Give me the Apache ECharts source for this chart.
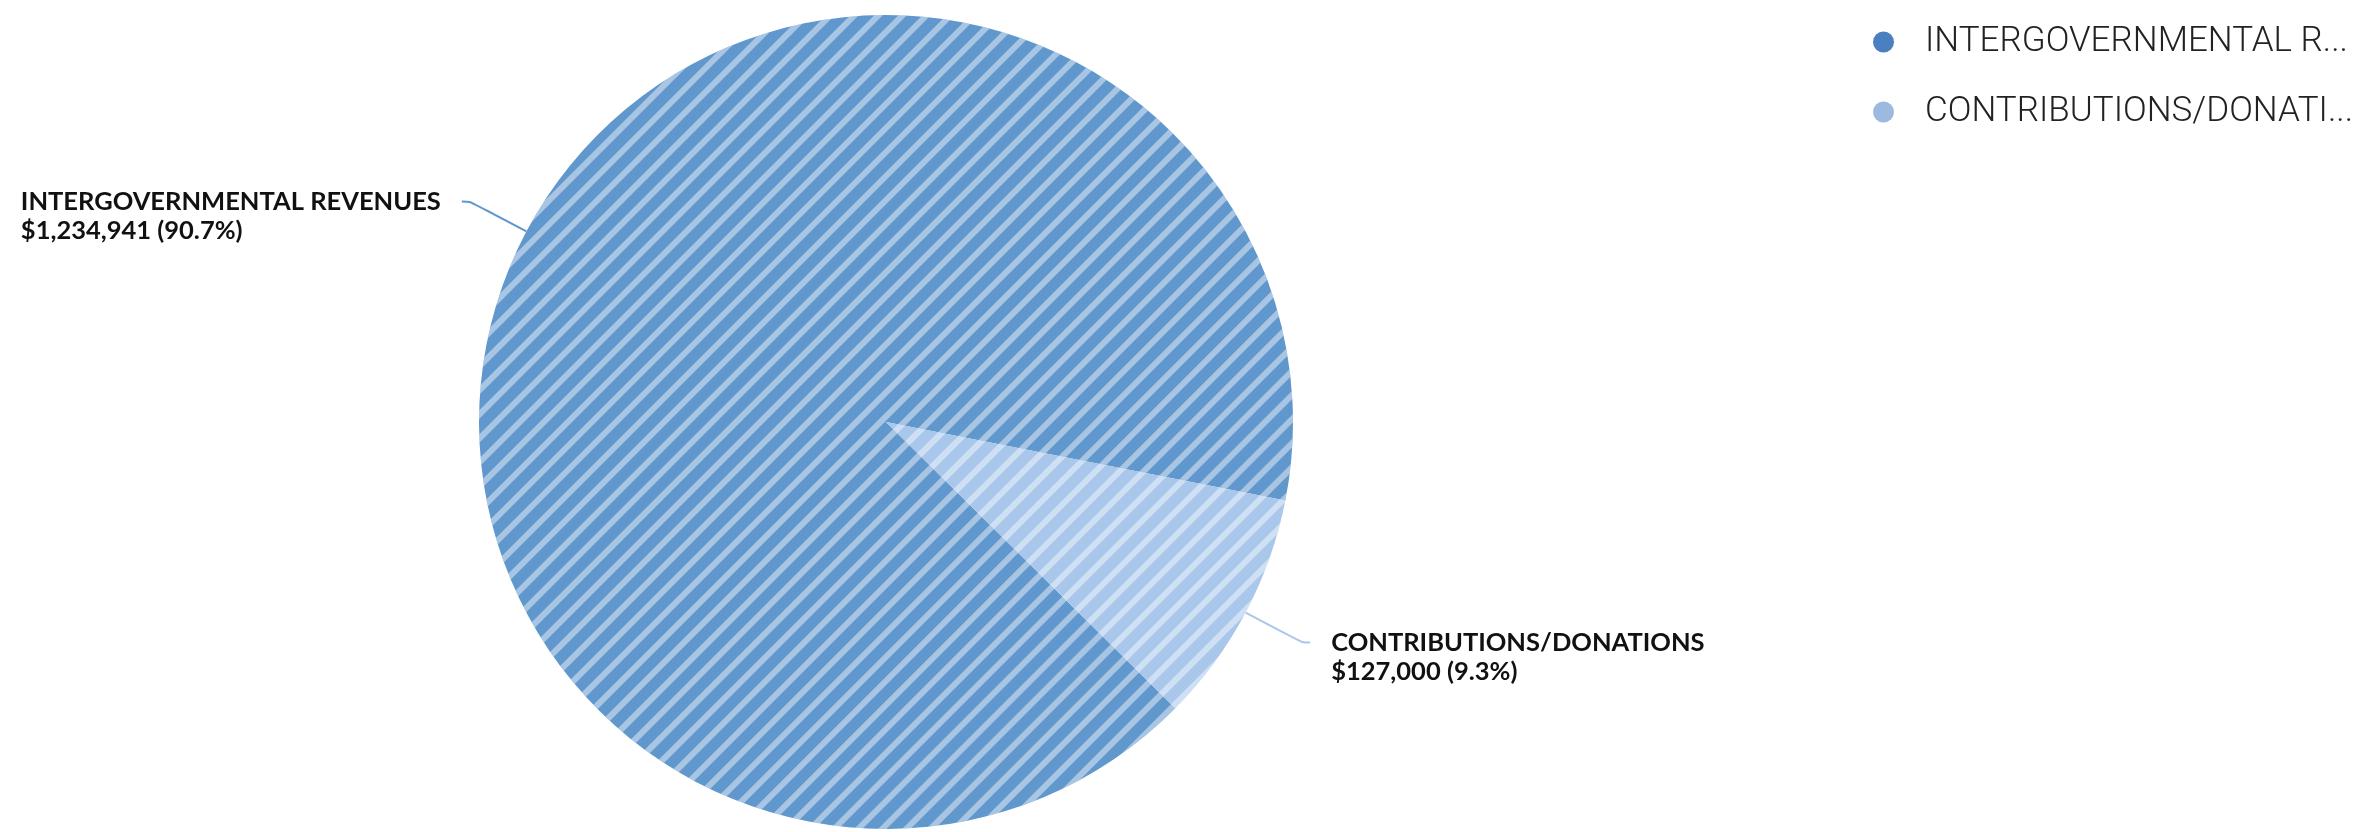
<!DOCTYPE html>
<html>
<head>
<meta charset="utf-8">
<script src="https://cdn.jsdelivr.net/npm/echarts@6/dist/echarts.min.js"></script>
<style>
  html, body { margin: 0; padding: 0; background: #ffffff; }
  #chart { width: 2373px; height: 832px; }
</style>
</head>
<body>
<div id="chart"></div>
<script>
// Revenue sources
const categories = ['INTERGOVERNMENTAL REVENUES', 'CONTRIBUTIONS/DONATIONS'];
const amounts = [1234941, 127000];
// Shortened names shown in the legend
const legendLabels = ['INTERGOVERNMENTAL R...', 'CONTRIBUTIONS/DONATI...'];
const sliceColors = ['#6097cc', '#a9c6eb'];
const legendColors = ['#4a80c0', '#9bb9e1'];

const fmtMoney = v => '$' + v.toLocaleString('en-US');

const chart = echarts.init(document.getElementById('chart'), null, { renderer: 'canvas' });

const stripe = {
  symbol: 'rect',
  symbolSize: 1,
  dashArrayX: [1, 0],
  dashArrayY: [6, 11],
  rotation: -Math.PI / 4,
  color: 'rgba(255,255,255,0.45)'
};

chart.setOption({
  animation: false,
  backgroundColor: '#ffffff',
  legend: {
    orient: 'vertical',
    left: 1868,
    top: 17,
    icon: 'circle',
    itemWidth: 21,
    itemHeight: 21,
    itemGap: 30,
    selectedMode: false,
    itemStyle: { decal: { color: 'rgba(0,0,0,0)' } },
    formatter: name => legendLabels[categories.indexOf(name)],
    textStyle: {
      fontFamily: 'Roboto',
      fontWeight: 300,
      fontSize: 35,
      lineHeight: 40,
      color: '#222222',
      padding: [0, 0, 0, 26]
    },
    data: categories.map((name, i) => ({ name, itemStyle: { color: legendColors[i] } }))
  },
  series: [{
    type: 'pie',
    center: [886, 422],
    radius: 407,
    startAngle: 315.3,
    clockwise: true,
    avoidLabelOverlap: false,
    data: categories.map((name, i) => ({
      name,
      value: amounts[i],
      itemStyle: { color: sliceColors[i], decal: stripe }
    })),
    label: {
      show: true,
      position: 'outside',
      distanceToLabelLine: 21,
      padding: [29, 0, 0, 0],
      formatter: p => '{n|' + p.name + '}\n{v|' + fmtMoney(p.value) + ' (' + p.percent.toFixed(1) + '%)}',
      rich: {
        n: { fontFamily: 'Lato', fontWeight: 'bold', fontSize: 25.5, lineHeight: 29, color: '#111111', align: 'left' },
        v: { fontFamily: 'Lato', fontWeight: 'bold', fontSize: 25.5, lineHeight: 29, color: '#111111', align: 'left' }
      }
    },
    labelLine: {
      show: true,
      length: 64,
      length2: 8,
      smooth: true,
      lineStyle: { width: 2 }
    }
  }]
});
</script>
</body>
</html>
